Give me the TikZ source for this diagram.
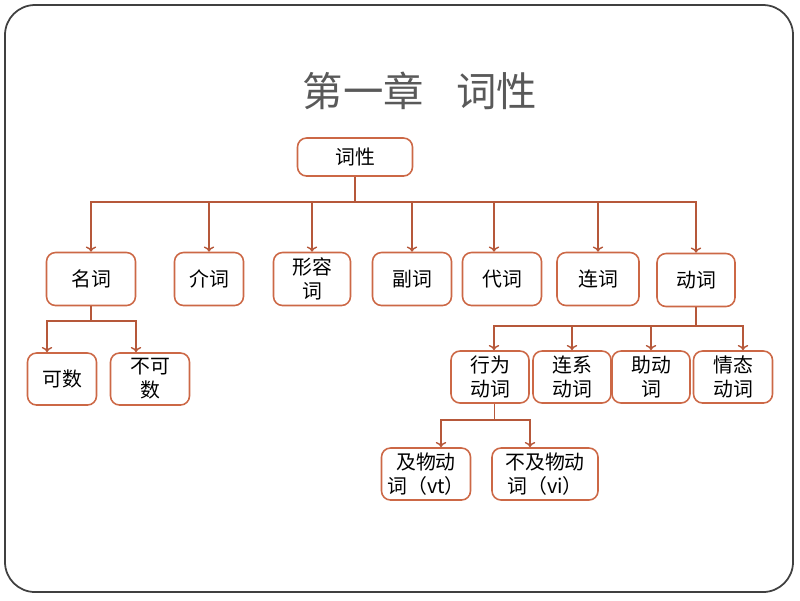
\documentclass[tikz,border=0pt]{standalone}
\usepackage{fontspec}
\setmainfont{Noto Sans CJK SC}
\usepackage{xcolor}
\usetikzlibrary{arrows.meta}
\definecolor{boxline}{RGB}{204,104,70}
\definecolor{linkline}{RGB}{182,88,58}
\definecolor{titlegray}{RGB}{89,89,89}
\definecolor{framegray}{RGB}{64,64,64}

\begin{document}
\begin{tikzpicture}[x = 0.02cm, y = -0.02cm,
	box/.style = {draw = boxline, line width = 0.9pt, rounded corners = 0.18cm,
		align = center, inner sep = 0pt, font = \fontsize{11.3}{13.6}\selectfont},
	link/.style = {draw = linkline, line width = 0.8pt},
	arr/.style = {link, -{To[length=3pt, width=6pt]}}]
	\useasboundingbox (0, 0) rectangle (800, 600);
	\draw[framegray, line width = 1pt, rounded corners = 0.6cm] (5, 5) rectangle (793, 592);
	\node[titlegray, font = \fontsize{23}{27}\selectfont] (title) at (420, 91) {第一章\hspace{0.8em}词性};
	% root
	\node[box, minimum width = 2.3cm, minimum height = 0.76cm] (cixing) at (355, 157) {词性};
	% first level
	\node[box, minimum width = 1.78cm, minimum height = 1.06cm] (mingci)  at (91,  279) {名词};
	\node[box, minimum width = 1.38cm, minimum height = 1.06cm] (jieci)   at (209, 279) {介词};
	\node[box, minimum width = 1.54cm, minimum height = 1.06cm] (xingrong) at (312, 279) {形容\\词};
	\node[box, minimum width = 1.58cm, minimum height = 1.06cm] (fuci)    at (412, 279) {副词};
	\node[box, minimum width = 1.58cm, minimum height = 1.06cm] (daici)   at (502, 279) {代词};
	\node[box, minimum width = 1.64cm, minimum height = 1.06cm] (lianci)  at (598, 279) {连词};
	\node[box, minimum width = 1.56cm, minimum height = 1.06cm] (dongci)  at (696, 280) {动词};
	% nouns
	\node[box, minimum width = 1.38cm, minimum height = 1.04cm] (keshu)   at (62,  379) {可数};
	\node[box, minimum width = 1.58cm, minimum height = 1.04cm] (bukeshu) at (150, 379) {不可\\数};
	% verbs
	\node[box, minimum width = 1.56cm, minimum height = 1.04cm] (xingwei) at (490, 377) {行为\\动词};
	\node[box, minimum width = 1.56cm, minimum height = 1.04cm] (lianxi)  at (572, 377) {连系\\动词};
	\node[box, minimum width = 1.56cm, minimum height = 1.04cm] (zhudong) at (651, 377) {助动\\词};
	\node[box, minimum width = 1.58cm, minimum height = 1.04cm] (qingtai) at (733, 377) {情态\\动词};
	\node[box, minimum width = 1.78cm, minimum height = 1.04cm] (jiwu)    at (426, 474) {及物动\\词（vt）};
	\node[box, minimum width = 2.12cm, minimum height = 1.04cm] (bujiwu)  at (545, 474) {不及物动\\词（vi）};
	% connectors
	\coordinate (bus) at (355, 202);
	\draw[link] (cixing) -- (bus);
	\draw[arr] (bus) -| (mingci.north);
	\draw[arr] (bus) -| (jieci.north);
	\draw[arr] (bus) -| (xingrong.north);
	\draw[arr] (bus) -| (fuci.north);
	\draw[arr] (bus) -| ([xshift = -0.16cm]daici.north);
	\draw[arr] (bus) -| (lianci.north);
	\draw[arr] (bus) -| (dongci.north);
	\coordinate (nbus) at (91, 321);
	\draw[link] (mingci) -- (nbus);
	\draw[arr] (nbus) -| ([xshift = -0.3cm]keshu.north);
	\draw[arr] (nbus) -| ([xshift = -0.28cm]bukeshu.north);
	\coordinate (vbus) at (696, 326);
	\draw[link] (dongci) -- (vbus);
	\draw[arr] (vbus) -| ([xshift = 0.08cm]xingwei.north);
	\draw[arr] (vbus) -| (lianxi.north);
	\draw[arr] (vbus) -| (zhudong.north);
	\draw[arr] (vbus) -| ([xshift = 0.2cm]qingtai.north);
	\coordinate (tbus) at (494.5, 420);
	\draw[link] (xingwei.south -| tbus) -- (tbus);
	\draw[arr] (tbus) -| ([xshift = 0.3cm]jiwu.north);
	\draw[arr] (tbus) -| ([xshift = -0.3cm]bujiwu.north);
\end{tikzpicture}
\end{document}
